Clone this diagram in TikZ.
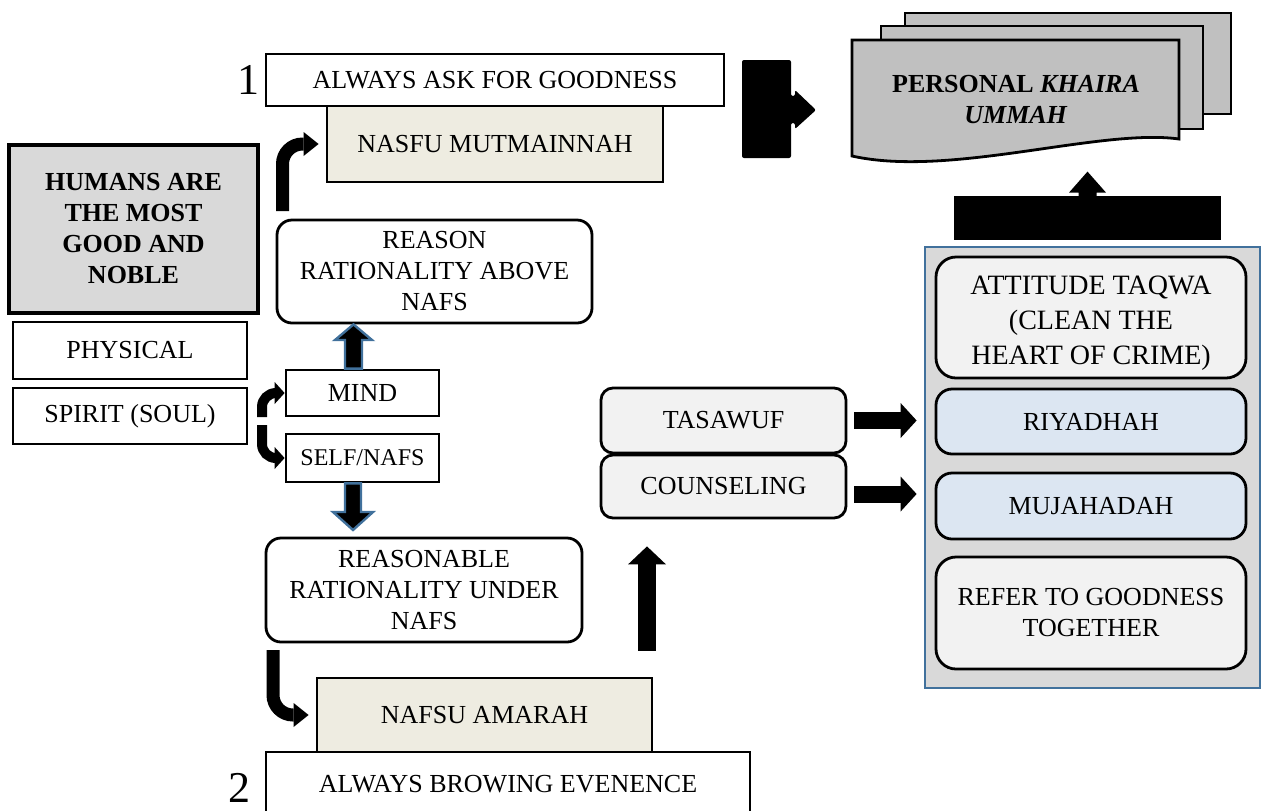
\documentclass[tikz,border=0pt]{standalone}
\usepackage{fontspec}
\setmainfont{Liberation Serif}
\usetikzlibrary{calc}
\usetikzlibrary{arrows.meta}

\definecolor{beige}{HTML}{EEECE1}
\definecolor{humangray}{HTML}{D9D9D9}
\definecolor{docgray}{HTML}{C0C0C0}
\definecolor{boxgray}{HTML}{F2F2F2}
\definecolor{paleblue}{HTML}{DCE6F2}
\definecolor{edgeblue}{HTML}{41719C}

\newcommand{\mainsz}{\fontsize{13}{15.5}\selectfont}
\newcommand{\smallsz}{\fontsize{12}{14.5}\selectfont}
\newcommand{\bigsz}{\fontsize{14}{17.5}\selectfont}
\newcommand{\numsz}{\fontsize{22}{26}\selectfont}

\begin{document}
\begin{tikzpicture}[x=0.5pt, y=-0.5pt,
    box/.style={draw, fill=white, line width=1.4pt, inner sep=2pt, align=center, font=\mainsz},
    roundbox/.style={box, rounded corners=7.5pt},
    bent/.style={line width=6.5pt, rounded corners=10pt, -{Triangle[length=7.5pt, width=12pt, line width=0pt]}},
    bentthin/.style={line width=5pt, rounded corners=7pt, -{Triangle[length=5pt, width=11pt, line width=0pt]}},
    fatarrow/.style={line width=9pt, -{Triangle[length=9pt, width=19pt, line width=0pt]}},
    sidearrow/.style={line width=8.5pt, -{Triangle[length=8pt, width=17.5pt, line width=0pt]}},
    edgearrow/.style={fill=black, draw=edgeblue, line width=1.2pt},
    sheet/.style={draw, fill=docgray, line width=1.4pt}]
    \useasboundingbox (0,0) rectangle (1263,810);

    % upper way
    \node[box, fill=beige, minimum width=168pt, minimum height=38pt] (mutma) at (495,144) {NASFU MUTMAINNAH};
    \node[box, minimum width=229pt, minimum height=26pt] (ask) at (495,80) {ALWAYS ASK FOR GOODNESS};
    \node[font=\numsz] (one) at (248,80) {1};

    % left column
    \node[box, fill=humangray, line width=1.8pt, font=\mainsz\bfseries, minimum width=124.5pt, minimum height=84pt] (humans) at (133.5,229) {HUMANS ARE\\THE MOST\\GOOD AND\\NOBLE};
    \node[box, minimum width=117pt, minimum height=28.5pt] (physical) at (130,350.5) {PHYSICAL};
    \node[box, minimum width=117pt, minimum height=28pt] (spirit) at (130,416) {SPIRIT (SOUL)};
    \node[box, minimum width=76.5pt, minimum height=23pt] (mind) at (362.5,393) {MIND};
    \node[box, font=\smallsz, minimum width=76.5pt, minimum height=24pt] (self) at (362.5,458) {SELF/NAFS};
    \node[roundbox, minimum width=157.5pt, minimum height=51.5pt] (reason) at (434.5,271.5) {REASON\\RATIONALITY ABOVE\\NAFS};
    \node[roundbox, minimum width=158pt, minimum height=52pt] (reasonable) at (424,590) {REASONABLE\\RATIONALITY UNDER\\NAFS};

    % lower way
    \node[box, fill=beige, minimum width=167.5pt, minimum height=37pt] (amarah) at (484.5,715) {NAFSU AMARAH};
    \node[box, minimum width=242pt, minimum height=32pt] (browing) at (508,784) {ALWAYS BROWING EVENENCE};
    \node[font=\numsz] (two) at (239,788) {2};

    % methods
    \node[roundbox, fill=boxgray, rounded corners=6pt, minimum width=122.5pt, minimum height=32.5pt] (tasawuf) at (723.5,420.5) {TASAWUF};
    \node[roundbox, fill=boxgray, rounded corners=6pt, minimum width=122.5pt, minimum height=31.5pt] (counsel) at (723.5,486.5) {COUNSELING};

    % right panel
    \node[draw=edgeblue, fill=humangray, line width=1.3pt, inner sep=0pt, minimum width=167.5pt, minimum height=220.5pt] (panel) at (1092.5,467.5) {};
    \node[roundbox, fill=boxgray, rounded corners=10pt, minimum width=155pt, minimum height=60.5pt] (taqwa) at (1091,317.5) {};
    \node[font=\bigsz, align=center] (taqwatext) at ($(taqwa.center)+(0,5.5)$) {ATTITUDE TAQWA\\(CLEAN THE\\HEART OF CRIME)};
    \node[roundbox, fill=paleblue, rounded corners=8pt, minimum width=155pt, minimum height=32.5pt] (riyadhah) at (1091,421.5) {RIYADHAH};
    \node[roundbox, fill=paleblue, rounded corners=8pt, minimum width=155pt, minimum height=33pt] (mujahadah) at (1091,506) {MUJAHADAH};
    \node[roundbox, fill=boxgray, rounded corners=10pt, minimum width=155pt, minimum height=56pt] (refer) at (1091,613) {REFER TO GOODNESS\\TOGETHER};

    % document stack
    \draw[sheet] (905,13) rectangle (1231,114);
    \draw[sheet] (881,26) rectangle (1203,129);
    \filldraw[sheet] (852,40) -- (1179,40) -- (1179,139) .. controls (1100,128) and (950,178) .. (852,156) -- cycle;
    \node[font=\mainsz\bfseries, align=center] (khaira) at (1016,100) {PERSONAL \textit{KHAIRA}\\\textit{UMMAH}};

    % block arrows
    \fill[rounded corners=1pt] (742,60) -- (791,60) -- (791,96) -- (795,96) -- (795,90) -- (816,110) -- (795,129) -- (795,123) -- (791,123) -- (791,158) -- (742,158) -- cycle;
    \node[fill=black, inner sep=0pt, minimum width=133.5pt, minimum height=22pt] (bar) at (1087.5,218) {};
    \fill ($(bar.north)+(-9,1)$) -- ++(0,-4) -- ++(-9.5,0) -- ++(18.5,-21) -- ++(18.5,21) -- ++(-9.5,0) -- ++(0,4) -- cycle;

    % connectors
    \coordinate (rise) at (282.5,211);
    \coordinate (soulup) at (262,417);
    \coordinate (souldown) at (262,425);
    \coordinate (sink) at (273,650);
    \draw[bent, shorten >=3.5pt] (rise) |- (mutma.west);
    \draw[bentthin] (soulup) |- (mind.west);
    \draw[bentthin] (souldown) |- (self.west);
    \draw[bent, shorten >=3.5pt] (sink) |- (amarah.west);
    \filldraw[edgearrow] (345,0 |- mind.north) -- (345,340) -- (335,340) -- (353.5,0 |- reason.south) -- (372,340) -- (362,340) -- (362,0 |- mind.north) -- cycle;
    \filldraw[edgearrow] (345,0 |- self.south) -- (345,512) -- (333,512) -- (353,530) -- (373,512) -- (361,512) -- (361,0 |- self.south) -- cycle;
    \draw[fatarrow, shorten <=13pt, shorten >=13.5pt] (647,0 |- amarah.north) -- (647,0 |- counsel.south);
    \draw[sidearrow, shorten <=3.5pt, shorten >=9pt] (tasawuf.east) -- (riyadhah.west |- tasawuf.east);
    \draw[sidearrow, shorten <=3.5pt, shorten >=9pt] (counsel.east |- 0,494) -- (mujahadah.west |- 0,494);
\end{tikzpicture}
\end{document}
